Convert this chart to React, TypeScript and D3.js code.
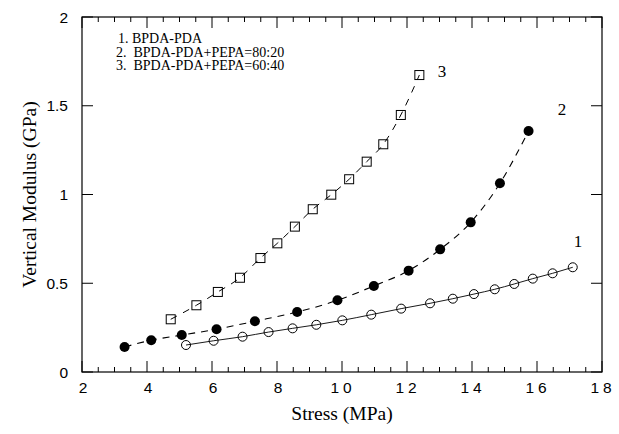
import React from "react";
import * as d3 from "d3";

const s1x = [5.2, 6.05, 6.94, 7.74, 8.48, 9.21, 10.01, 10.9, 11.82, 12.71, 13.41, 14.06, 14.7, 15.3, 15.87, 16.48, 17.1];
const s1y = [0.152, 0.176, 0.199, 0.225, 0.246, 0.266, 0.291, 0.323, 0.357, 0.387, 0.413, 0.439, 0.466, 0.496, 0.526, 0.556, 0.59];
const s2x = [3.31, 4.13, 5.07, 6.14, 7.32, 8.62, 9.86, 10.98, 12.05, 13.02, 13.96, 14.86, 15.74];
const s2y = [0.141, 0.179, 0.208, 0.241, 0.286, 0.338, 0.404, 0.485, 0.571, 0.691, 0.843, 1.063, 1.358];
const s3x = [4.73, 5.52, 6.18, 6.86, 7.49, 8.01, 8.55, 9.1, 9.67, 10.22, 10.76, 11.27, 11.81, 12.38];
const s3y = [0.297, 0.376, 0.451, 0.531, 0.642, 0.725, 0.819, 0.917, 0.999, 1.086, 1.185, 1.283, 1.448, 1.673];

const xTicks = [2, 4, 6, 8, 10, 12, 14, 16, 18];
const xTickLabels = ["2", "4", "6", "8", "10", "12", "14", "16", "18"];
const yTicks = [0, 0.5, 1, 1.5, 2];
const yTickLabels = ["0", "0.5", "1", "1.5", "2"];
const legendLines = ["1. BPDA-PDA", "2.  BPDA-PDA+PEPA=80:20", "3.  BPDA-PDA+PEPA=60:40"];

const L = 82, R = 602, T = 17, B = 372;

export default function App() {
  const x = d3.scaleLinear().domain([2, 18]).range([L, R]);
  const y = d3.scaleLinear().domain([0, 2]).range([B, T]);
  const line = d3.line<[number, number]>().x(d => x(d[0])).y(d => y(d[1])).curve(d3.curveMonotoneX);
  const p1 = s1x.map((v, i) => [v, s1y[i]] as [number, number]);
  const p2 = s2x.map((v, i) => [v, s2y[i]] as [number, number]);
  const p3 = s3x.map((v, i) => [v, s3y[i]] as [number, number]);
  const minorX = d3.range(2, 18.01, 0.5);
  const sans = "'Liberation Sans', Arial, sans-serif";
  const serif = "'Liberation Serif', 'Times New Roman', serif";
  return (
    <svg width={619} height={434} style={{ position: "absolute", left: 0, top: 0, background: "#fff" }}>
      <rect x={L} y={T} width={R - L} height={B - T} fill="none" stroke="#000" strokeWidth={1.2} />
      {minorX.map((v, i) => {
        const major = Math.abs(v % 2) < 1e-6;
        const len = major ? 11 : 5;
        return (
          <g key={"mx" + i}>
            <line x1={x(v)} x2={x(v)} y1={B} y2={B - len} stroke="#000" strokeWidth={1} />
            <line x1={x(v)} x2={x(v)} y1={T} y2={T + len} stroke="#000" strokeWidth={1} />
          </g>
        );
      })}
      {yTicks.map((v, i) => (
        <g key={"yt" + i}>
          <line x1={L} x2={L + 11} y1={y(v)} y2={y(v)} stroke="#000" strokeWidth={1} />
          <line x1={R} x2={R - 11} y1={y(v)} y2={y(v)} stroke="#000" strokeWidth={1} />
          <text x={68} y={y(v) + 5.5} textAnchor="end" fontFamily={sans} fontSize={15.5}>{yTickLabels[i]}</text>
        </g>
      ))}
      {xTicks.map((v, i) => (
        <text key={"xl" + i} x={x(v) + 1} y={393} textAnchor="middle" fontFamily={sans} fontSize={15.5} letterSpacing={xTickLabels[i].length > 1 ? 4 : 0}>{xTickLabels[i]}</text>
      ))}
      <text x={342} y={420} textAnchor="middle" fontFamily={serif} fontSize={19.5}>Stress (MPa)</text>
      <text transform={`translate(36,${(T + B) / 2}) rotate(-90)`} textAnchor="middle" fontFamily={serif} fontSize={19.5}>Vertical Modulus (GPa)</text>
      {legendLines.map((t, i) => (
        <text key={"lg" + i} x={i === 0 ? 118 : 116} y={43 + i * 13.7} fontFamily={serif} fontSize={14} style={{ whiteSpace: "pre" }}>{t}</text>
      ))}
      {p1.map((d, i) => (
        <circle key={"c1" + i} cx={x(d[0])} cy={y(d[1])} r={4.5} fill="#fff" stroke="#000" strokeWidth={1} />
      ))}
      {p3.map((d, i) => (
        <rect key={"r3" + i} x={x(d[0]) - 4.5} y={y(d[1]) - 4.5} width={9} height={9} fill="#fff" stroke="#000" strokeWidth={1} />
      ))}
      <path d={line(p1) || ""} fill="none" stroke="#000" strokeWidth={0.9} />
      <path d={line(p2) || ""} fill="none" stroke="#000" strokeWidth={1.1} strokeDasharray="7,6" />
      <path d={line(p3) || ""} fill="none" stroke="#000" strokeWidth={1} strokeDasharray="7,7" />
      {p2.map((d, i) => (
        <circle key={"c2" + i} cx={x(d[0])} cy={y(d[1])} r={5} fill="#000" />
      ))}
      <text x={442} y={77} textAnchor="middle" fontFamily={serif} fontSize={17}>3</text>
      <text x={562} y={115} textAnchor="middle" fontFamily={serif} fontSize={17}>2</text>
      <text x={578} y={247} textAnchor="middle" fontFamily={serif} fontSize={17}>1</text>
    </svg>
  );
}
